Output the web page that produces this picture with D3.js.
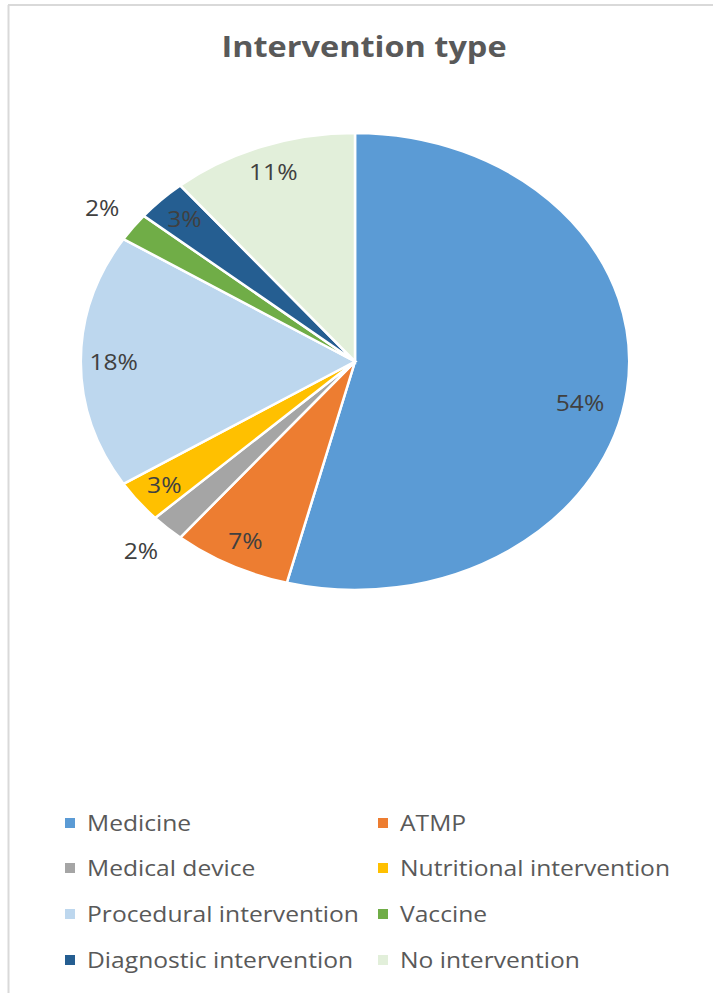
<!DOCTYPE html>
<html>
<head>
<meta charset="utf-8">
<script src="https://cdn.jsdelivr.net/npm/d3@7"></script>
<style>
  body { margin: 0; background: #fff; }
  svg { display: block; }
</style>
</head>
<body>
<svg id="chart" width="713" height="993"></svg>
<script>
var categories = ["Medicine", "ATMP", "Medical device", "Nutritional intervention",
	"Procedural intervention", "Vaccine", "Diagnostic intervention", "No intervention"];
var values = [54, 7, 2, 3, 18, 2, 3, 11];
var colors = ["#5B9BD5", "#ED7D31", "#A5A5A5", "#FFC000",
	"#BDD7EE", "#70AD47", "#255E91", "#E2EFDA"];
var title = "Intervention type";

var svg = d3.select("#chart");
var font = "'Open Sans', 'Liberation Sans', sans-serif";
var widen = 1.12; // the picture is stretched sideways

// frame (only top and left edges show)
svg.append("line").attr("x1", 8).attr("y1", 5).attr("x2", 713).attr("y2", 5)
	.attr("stroke", "#d9d9d9").attr("stroke-width", 2);
svg.append("line").attr("x1", 8.5).attr("y1", 5).attr("x2", 8.5).attr("y2", 993)
	.attr("stroke", "#d9d9d9").attr("stroke-width", 2);

var addText = function(x, y, str, size, weight, color, anchor) {
	return svg.append("text")
		.attr("transform", "translate(" + x + "," + y + ") scale(" + widen + ",1)")
		.attr("text-anchor", anchor)
		.style("font-family", font)
		.style("font-size", size + "px")
		.style("font-weight", weight)
		.attr("fill", color)
		.text(str);
};

addText(364, 57, title, 29, "bold", "#595959", "middle");

// pie, drawn as circle then stretched to an ellipse
var cx = 355, cy = 361.5, ry = 228.5, stretch = 1.2;
var rx = ry * stretch;

var pie = d3.pie().sort(null).value(function(d) { return d; });
var arcs = pie(values);
var arc = d3.arc().innerRadius(0).outerRadius(ry);

var pieG = svg.append("g")
	.attr("transform", "translate(" + cx + "," + cy + ") scale(" + stretch + ",1)");

pieG.selectAll("path").data(arcs).enter()
	.append("path")
	.attr("d", arc)
	.attr("fill", function(d, i) { return colors[i]; })
	.attr("stroke", "#fff")
	.attr("stroke-width", 2.5)
	.attr("vector-effect", "non-scaling-stroke");

arcs.forEach(function(d) {
	var a = (d.startAngle + d.endAngle) / 2;
	var f = d.value <= 2 ? 1.14 : (d.value > 50 ? 0.84 : 0.88);
	if (d.value > 50) a += 0.09;
	var x = cx + Math.sin(a) * rx * f;
	var y = cy - Math.cos(a) * ry * f;
	addText(x, y + 8, d.value + "%", 22, "normal", "#404040", "middle");
});

// legend
var legX = [65, 378];
var legY = [823, 868, 914, 960];
categories.forEach(function(c, i) {
	var lx = legX[i % 2], ly = legY[Math.floor(i / 2)];
	svg.append("rect")
		.attr("x", lx).attr("y", ly - 5)
		.attr("width", 10).attr("height", 10)
		.attr("fill", colors[i]);
	addText(lx + 22, ly + 8, c, 22, "normal", "#595959", "start");
});
</script>
</body>
</html>
